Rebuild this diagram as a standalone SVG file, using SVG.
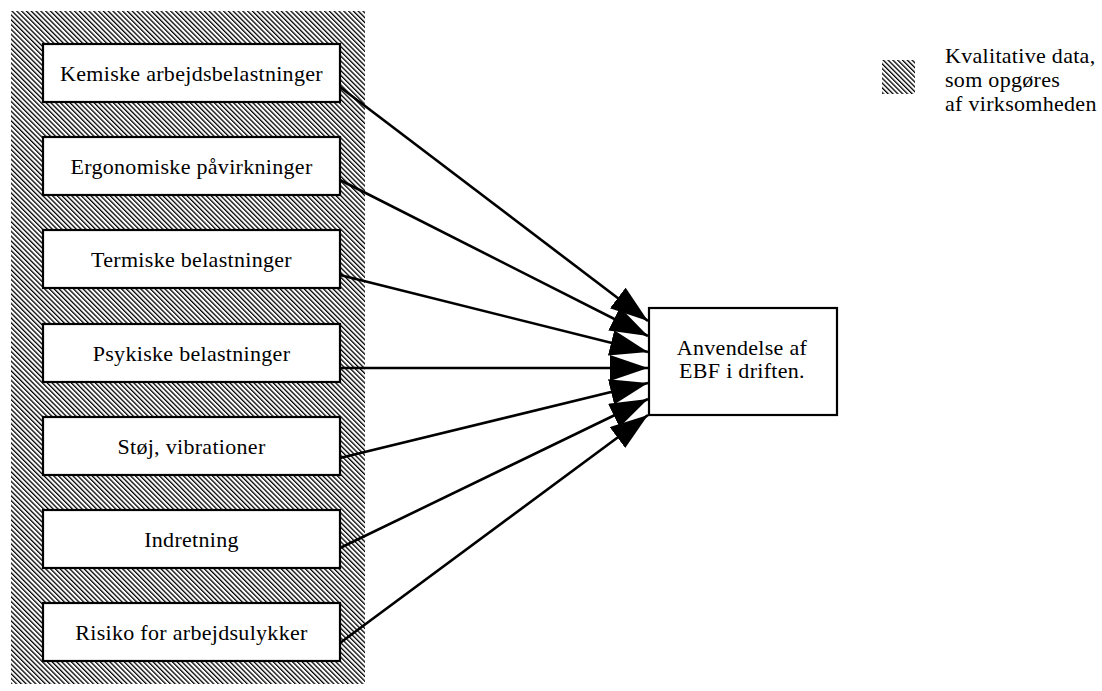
<svg xmlns="http://www.w3.org/2000/svg" width="1102" height="691" viewBox="0 0 1102 691">
<defs>
<pattern id="hatch" width="3.4" height="3.4" patternUnits="userSpaceOnUse" patternTransform="rotate(-45)">
<rect x="0" y="0" width="1.3" height="3.4" fill="#000"/>
</pattern>
<marker id="ah" markerUnits="userSpaceOnUse" markerWidth="42" markerHeight="28" refX="38" refY="13" orient="auto">
<path d="M0,0 L38,13 L0,26 Z" fill="#000"/>
</marker>
<style>
.box{fill:#fff;stroke:#000;stroke-width:2.2}
.t{font-family:"Liberation Serif","Times New Roman",serif;font-size:22px;letter-spacing:0.3px;fill:#000;text-anchor:middle}
.lg{font-family:"Liberation Serif","Times New Roman",serif;font-size:22px;letter-spacing:0.3px;fill:#000}
.c{stroke:#000;stroke-width:2.6;fill:none;marker-end:url(#ah)}
</style>
</defs>
<rect width="1102" height="691" fill="#fff"/>
<rect id="bg" x="11" y="11" width="354" height="673" fill="url(#hatch)"/>
<g id="connectors">
<line class="c" x1="340" y1="87" x2="648" y2="321"/>
<line class="c" x1="340" y1="180" x2="648" y2="336"/>
<line class="c" x1="340" y1="275" x2="648" y2="352"/>
<line class="c" x1="340" y1="368" x2="648" y2="368"/>
<line class="c" x1="340" y1="458" x2="648" y2="383"/>
<line class="c" x1="340" y1="548" x2="648" y2="399"/>
<line class="c" x1="340" y1="643" x2="648" y2="415"/>
</g>
<g id="n1"><rect class="box" x="43" y="44" width="297" height="58"/><text class="t" x="191.5" y="81">Kemiske arbejdsbelastninger</text></g>
<g id="n2"><rect class="box" x="43" y="137" width="297" height="58"/><text class="t" x="191.5" y="174">Ergonomiske påvirkninger</text></g>
<g id="n3"><rect class="box" x="43" y="230" width="297" height="58"/><text class="t" x="191.5" y="267">Termiske belastninger</text></g>
<g id="n4"><rect class="box" x="43" y="324" width="297" height="58"/><text class="t" x="191.5" y="361">Psykiske belastninger</text></g>
<g id="n5"><rect class="box" x="43" y="417" width="297" height="58"/><text class="t" x="191.5" y="454">Støj, vibrationer</text></g>
<g id="n6"><rect class="box" x="43" y="510" width="297" height="58"/><text class="t" x="191.5" y="547">Indretning</text></g>
<g id="n7"><rect class="box" x="43" y="603" width="297" height="58"/><text class="t" x="191.5" y="640">Risiko for arbejdsulykker</text></g>
<g id="target"><rect class="box" x="649" y="308" width="188" height="107"/><text class="t" x="742" y="355">Anvendelse af</text><text class="t" x="742" y="378">EBF i driften.</text></g>
<g id="legend">
<rect x="882" y="60" width="33" height="34" fill="url(#hatch)"/>
<text class="lg" x="945" y="63">Kvalitative data,</text>
<text class="lg" x="945" y="87">som opgøres</text>
<text class="lg" x="945" y="111">af virksomheden</text>
</g>
</svg>
